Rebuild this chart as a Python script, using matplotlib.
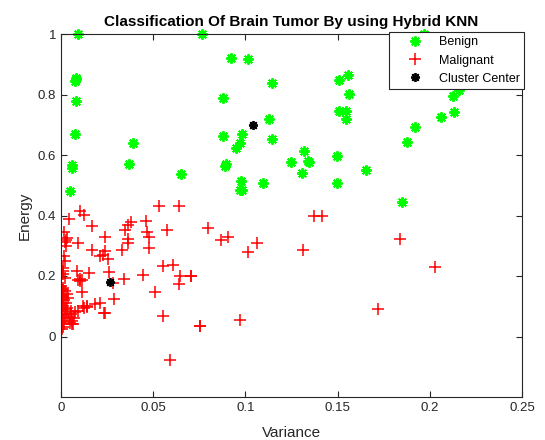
import matplotlib
matplotlib.use("Agg")
import matplotlib.pyplot as plt

plt.rcParams['font.family'] = ['Liberation Sans', 'DejaVu Sans']

benign_var = [0.0091, 0.0765, 0.0924, 0.1013, 0.0080, 0.0082, 0.0078, 0.1143, 0.0080, 0.0880,
              0.1129, 0.0076, 0.0877, 0.0980, 0.1145, 0.0393, 0.0969, 0.0947, 0.0062, 0.0060,
              0.0370, 0.0897, 0.0890, 0.1248, 0.0652, 0.0977, 0.0969, 0.0984, 0.1096, 0.0049,
              0.1970, 0.1509, 0.1558, 0.1560, 0.1509, 0.1545, 0.1543, 0.2160, 0.2127, 0.2129,
              0.2060, 0.1920, 0.1877, 0.1320, 0.1342, 0.1346, 0.1306, 0.1495, 0.1498, 0.1652,
              0.1848]
benign_energy = [1.000, 1.000, 0.922, 0.917, 0.856, 0.850, 0.845, 0.838, 0.780, 0.788,
                 0.719, 0.669, 0.663, 0.669, 0.652, 0.639, 0.639, 0.624, 0.568, 0.557,
                 0.571, 0.571, 0.562, 0.578, 0.537, 0.513, 0.483, 0.483, 0.507, 0.480,
                 1.000, 0.848, 0.863, 0.802, 0.747, 0.747, 0.718, 0.815, 0.795, 0.742,
                 0.725, 0.694, 0.644, 0.614, 0.581, 0.577, 0.540, 0.598, 0.509, 0.549,
                 0.443]

malignant_var = [0.0533, 0.0638, 0.0103, 0.0125, 0.0045, 0.0170, 0.0460, 0.0377, 0.0366, 0.0348,
                 0.0574, 0.0469, 0.0475, 0.0018, 0.0031, 0.0028, 0.0022, 0.0237, 0.0364, 0.0362,
                 0.0092, 0.0025, 0.0478, 0.0333, 0.0170, 0.0239, 0.0230, 0.0212, 0.0257, 0.0018,
                 0.0022, 0.0013, 0.0013, 0.0009, 0.0022, 0.0089, 0.0154, 0.0259, 0.0103, 0.0112,
                 0.0094, 0.0284, 0.0342, 0.0442, 0.0551, 0.0610, 0.0647, 0.0638, 0.0705, 0.0000,
                 0.0009, 0.0112, 0.0511, 0.0013, 0.0040, 0.0004, 0.0290, 0.0185, 0.0143, 0.0121,
                 0.0212, 0.0091, 0.0076, 0.0241, 0.0551, 0.0053, 0.0067, 0.0752, 0.0591, 0.0795,
                 0.0870, 0.0906, 0.1016, 0.1065, 0.0707, 0.0754, 0.0969, 0.1370, 0.1417, 0.1313,
                 0.1841, 0.2026, 0.1721, 0.0005, 0.0010, 0.0015, 0.0008, 0.0020, 0.0010, 0.0030,
                 0.0005, 0.0020, 0.0035, 0.0010, 0.0025, 0.0015, 0.0005, 0.0030, 0.0020, 0.0010,
                 0.0045, 0.0060, 0.0055, 0.0070, 0.0049, 0.0058, 0.0140, 0.0127, 0.0235, 0.0103]
malignant_energy = [0.433, 0.430, 0.414, 0.403, 0.389, 0.366, 0.383, 0.380, 0.367, 0.353,
                    0.353, 0.344, 0.329, 0.345, 0.326, 0.320, 0.311, 0.329, 0.322, 0.309,
                    0.309, 0.298, 0.293, 0.287, 0.285, 0.284, 0.271, 0.265, 0.256, 0.265,
                    0.249, 0.227, 0.216, 0.205, 0.194, 0.218, 0.210, 0.212, 0.190, 0.186,
                    0.188, 0.178, 0.190, 0.204, 0.234, 0.238, 0.201, 0.174, 0.199, 0.166,
                    0.155, 0.146, 0.147, 0.133, 0.127, 0.122, 0.124, 0.106, 0.097, 0.100,
                    0.111, 0.084, 0.080, 0.078, 0.069, 0.073, 0.040, 0.036, -0.079, 0.359,
                    0.320, 0.328, 0.280, 0.308, 0.199, 0.035, 0.056, 0.398, 0.398, 0.287,
                    0.321, 0.229, 0.090, 0.025, 0.030, 0.040, 0.050, 0.060, 0.070, 0.075,
                    0.085, 0.090, 0.095, 0.100, 0.110, 0.120, 0.135, 0.140, 0.150, 0.160,
                    0.065, 0.050, 0.085, 0.060, 0.045, 0.040, 0.102, 0.095, 0.078, 0.183]

center_var = [0.0266, 0.1040]
center_energy = [0.180, 0.699]

xticks = [0, 0.05, 0.1, 0.15, 0.2, 0.25]
xtick_labels = ['0', '0.05', '0.1', '0.15', '0.2', '0.25']
yticks = [0, 0.2, 0.4, 0.6, 0.8, 1]
ytick_labels = ['0', '0.2', '0.4', '0.6', '0.8', '1']

fig = plt.figure(figsize=(5.45, 4.40), dpi=100)
ax = fig.add_axes([61/545, 1-397/440, (522-61)/545, (397-34)/440])

ax.plot(benign_var, benign_energy, linestyle='none', marker=(8, 2, 0), color='#00ff00',
        markersize=7.5, markeredgewidth=1.4, label='Benign', clip_on=False)
ax.plot(malignant_var, malignant_energy, linestyle='none', marker='+', color='#ff0000',
        markersize=8, markeredgewidth=1.1, label='Malignant')
ax.plot(center_var, center_energy, linestyle='none', marker=(8, 2, 0), color='black',
        markersize=6.5, markeredgewidth=1.3, label='Cluster Center')

ax.set_xlim(0, 0.25)
ax.set_ylim(-0.2, 1)
ax.set_xticks(xticks)
ax.set_xticklabels(xtick_labels)
ax.set_yticks(yticks)
ax.set_yticklabels(ytick_labels)
ax.tick_params(direction='in', top=True, right=True, length=4, width=0.8,
               labelsize=9.5, colors='#262626')
for s in ax.spines.values():
    s.set_linewidth(0.8)
    s.set_color('#262626')

ax.set_xlabel('Variance', fontsize=11, color='#262626', labelpad=9)
ax.set_ylabel('Energy', fontsize=11, color='#262626', labelpad=4)
ax.set_title('Classification Of Brain Tumor By using Hybrid KNN', fontsize=11,
             fontweight='bold', pad=6)

leg = fig.legend(loc='upper right', bbox_to_anchor=(524/545, 1-32/440), fontsize=9,
                 frameon=True, fancybox=False, edgecolor='#262626', framealpha=1,
                 borderpad=0.35, labelspacing=0.5, handlelength=3.4, handletextpad=0.2,
                 borderaxespad=0)
leg.get_frame().set_linewidth(0.8)

fig.savefig('out.png', dpi=100)
